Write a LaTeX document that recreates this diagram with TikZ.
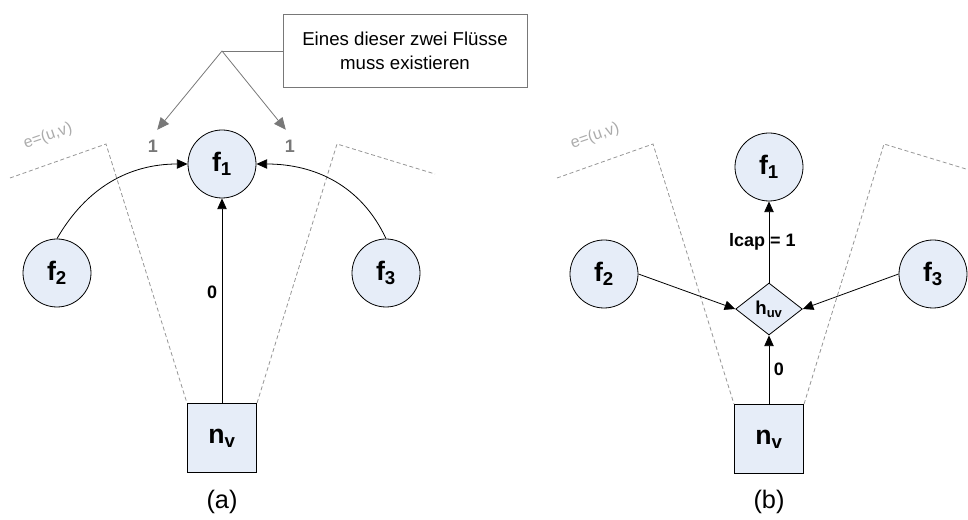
\documentclass[tikz,border=0pt]{standalone}
\usepackage{fontspec}
\setmainfont{Liberation Sans}
\usetikzlibrary{positioning,arrows.meta,shapes.geometric}
\definecolor{nodeblue}{RGB}{230,237,248}
\definecolor{cutgray}{RGB}{150,150,150}
\definecolor{notegray}{RGB}{120,120,120}
\tikzset{F node/.style={circle,fill=nodeblue,draw,minimum size=51pt,inner sep=0pt,font=\fontsize{20}{22}\selectfont\bfseries},
	N node/.style={rectangle,fill=nodeblue,draw,minimum size=52pt,inner sep=0pt,font=\fontsize{20}{22}\selectfont\bfseries},
	H node/.style={diamond,fill=nodeblue,draw,minimum width=50pt,minimum height=39pt,inner sep=0pt,font=\fontsize{14}{16}\selectfont\bfseries},
	cut line/.style={draw=cutgray,dash pattern=on 3pt off 2pt,line width=0.6pt},
	cut label/.style={text=cutgray!80,rotate=19,font=\fontsize{12}{14}\selectfont},
	flow label/.style={font=\fontsize{13.5}{15}\selectfont\bfseries},
	note node/.style={draw=notegray,fill=white,minimum width=183pt,minimum height=55pt,align=center,font=\fontsize{14}{18}\selectfont},}

\begin{document}
\begin{tikzpicture}[x=0.75pt,y=0.75pt,line width=0.6pt,>={Triangle[length=8pt,width=7pt]}]
			\useasboundingbox (0,0) rectangle (968,-520);

			% (a)
			\node[F node] (f1) at (222,-164) {f\textsubscript{1}};
			\node[F node] (f2) at (57,-273) {f\textsubscript{2}};
			\node[F node] (f3) at (386,-273) {f\textsubscript{3}};
			\node[N node] (nv) at (222,-438) {n\textsubscript{v}};

			\path[cut line] (10,-178) -- (106,-144) -- (nv.north west);
			\path[cut line] (nv.north east) -- (337,-144) -- (435,-174);
			\node[cut label] at (48,-136) {e=(u,v)};

			\path[draw]
				(f2.north) edge[->,out=60,in=180] (f1.west)
				(f3.north) edge[->,out=115,in=0] (f1.east)
				(nv.north) edge[->] node[flow label,left,pos=0.54] {0} (f1.south);

			\node[flow label,text=notegray] (one a) at (153,-146) {1};
			\node[flow label,text=notegray] (one b) at (290,-146) {1};
			\node[note node] (note) at (405,-51) {Eines dieser zwei Flüsse\\muss existieren};
			\coordinate (split) at (222,-51);
			\draw[notegray] (note.west) -- (split);
			\draw[notegray,->,>={Triangle[length=9pt,width=8pt]},shorten >=5pt] (split) -- (one a.north);
			\draw[notegray,->,>={Triangle[length=9pt,width=8pt]},shorten >=5pt] (split) -- (one b.north);

			\node at (222,-502) {\fontsize{19}{21}\selectfont (a)};

			% (b)
			\node[F node] (b1) at (547+222,-167) {f\textsubscript{1}};
			\node[F node] (b2) at (547+57,-274) {f\textsubscript{2}};
			\node[F node] (b3) at (547+386,-274) {f\textsubscript{3}};
			\node[H node] (bh) at (547+222,-309) {h\textsubscript{uv}};
			\node[N node] (bnv) at (547+222,-439) {n\textsubscript{v}};

			\path[cut line] (547+10,-178) -- (547+106,-144) -- (bnv.north west);
			\path[cut line] (bnv.north east) -- (547+337,-144) -- (966,-169);
			\node[cut label] at (547+48,-136) {e=(u,v)};

			\path[draw]
				(b2.east) edge[->] (bh.west)
				(b3.west) edge[->] (bh.east)
				(bnv.north) edge[->] node[flow label,right] {0} (bh.south)
				(bh.north) edge[->] node[flow label,xshift=-5pt] {lcap = 1} (b1.south);

			\node at (547+222,-502) {\fontsize{19}{21}\selectfont (b)};
\end{tikzpicture}
\end{document}
